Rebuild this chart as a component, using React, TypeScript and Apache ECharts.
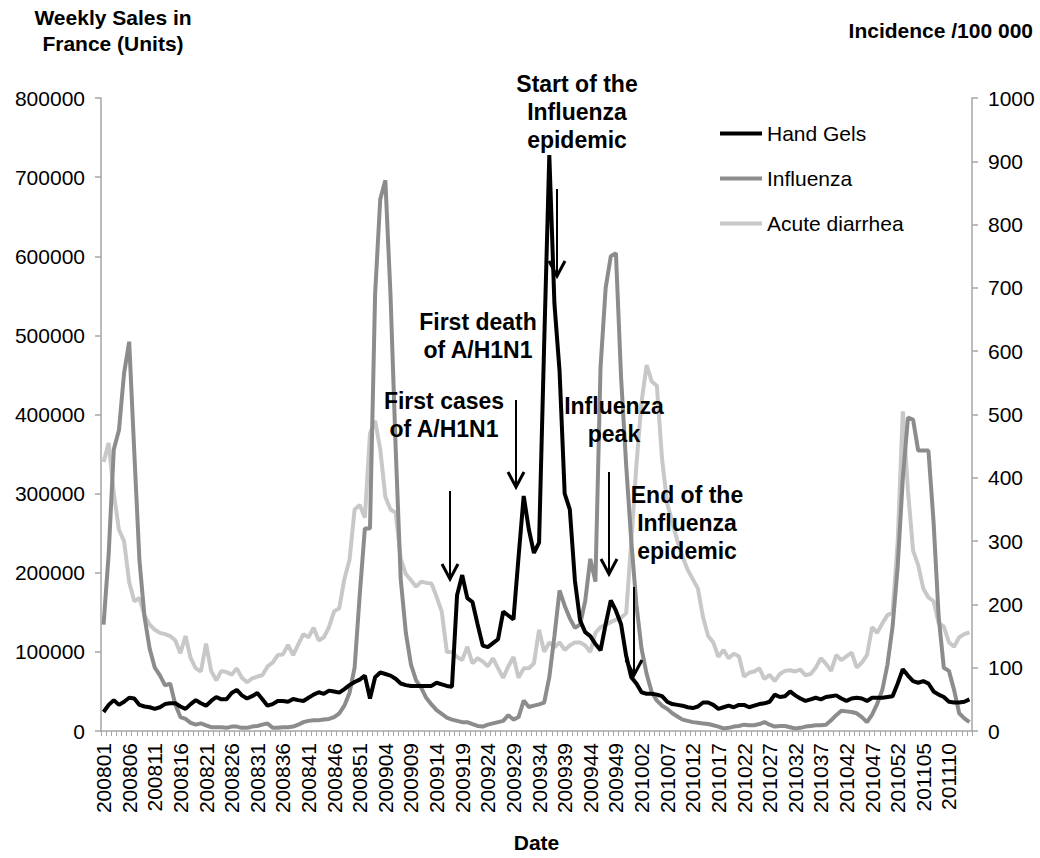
import React, { useEffect, useRef } from "react";
import * as echarts from "echarts";

const FONT = '"Liberation Sans", Arial, Helvetica, sans-serif';

// Weekly categories 200801 ... 201114 (52 weeks per year)
const years = [2008, 2009, 2010, 2011];
const lastWeekOfYear = [52, 52, 52, 14];
const weeks: string[] = [];
years.forEach((y, k) => {
  for (let w = 1; w <= lastWeekOfYear[k]; w++) weeks.push(`${y}${w < 10 ? "0" + w : w}`);
});

// Weekly sales of hand gels in France (units) - left axis
const handGels = [
  24000, 33000, 39000, 33000, 37000, 42000, 41000, 33000, 31000, 30000,
  28000, 30000, 34000, 35000, 35000, 31000, 28000, 34000, 39000, 35000,
  32000, 38000, 43000, 40000, 40000, 48000, 52000, 45000, 41000, 44000,
  48000, 40000, 32000, 34000, 38000, 38000, 37000, 40500, 39000, 38000,
  42000, 46000, 49000, 47000, 51000, 50000, 48500, 53000, 58000, 62000,
  65000, 70000, 41000, 68000, 74000, 72000, 70000, 66000, 60000, 58000,
  57000, 57000, 57000, 57000, 57000, 61000, 59000, 57000, 56000, 172000,
  197000, 168000, 163000, 135000, 108000, 106000, 111000, 116000, 151000, 146000,
  141000, 220000, 297000, 255000, 225000, 238000, 490000, 728000, 540000, 455000,
  300000, 280000, 190000, 140000, 125000, 120000, 110000, 102000, 135000, 165000,
  152000, 135000, 95000, 68000, 60000, 49000, 47000, 47000, 46000, 44000,
  37000, 34000, 33000, 32000, 30000, 29000, 31000, 36000, 36000, 33000,
  28000, 30000, 32000, 30000, 33000, 33000, 30000, 32000, 34000, 35000,
  37000, 46000, 43000, 44000, 50000, 45000, 41000, 38000, 40000, 42000,
  40000, 43000, 44000, 45000, 41000, 38000, 41000, 42000, 41000, 38000,
  42000, 42000, 42000, 43000, 44000, 60000, 78000, 70000, 63000, 61000,
  63000, 60000, 50000, 46000, 43000, 37000, 36000, 36000, 37000, 40000,
];

// Influenza incidence /100 000 - right axis
const influenza = [
  168, 280, 445, 475, 565, 615, 440, 270, 180, 130,
  100, 88, 72, 75, 42, 22, 19, 13, 10, 12,
  9, 6, 6, 6, 5, 7, 7, 5, 5, 7,
  8, 10, 12, 5, 5, 6, 6, 7, 10, 14,
  16, 17, 17, 18, 19, 22, 28, 40, 60, 100,
  215, 320, 320, 690, 840, 870, 690, 450, 240, 155,
  105, 80, 68, 52, 42, 33, 27, 21, 18, 16,
  14, 14, 11, 8, 7, 10, 12, 14, 16, 25,
  18, 22, 48, 38, 40, 42, 45, 85, 150, 222,
  198, 178, 163, 168, 205, 272, 236, 575, 700, 750,
  755, 560, 420, 300, 200, 130, 90, 61, 48, 40,
  35, 28, 23, 18, 16, 14, 13, 12, 11, 9,
  7, 4, 5, 7, 8, 10, 9, 9, 11, 14,
  10, 7, 8, 8, 6, 4, 5, 7, 8, 9,
  9, 10, 17, 25, 32, 31, 30, 28, 22, 14,
  26, 43, 65, 105, 165, 260, 400, 495, 492, 443,
  443, 443, 330, 180, 100, 95, 65, 28, 20, 14,
];

// Acute diarrhea incidence /100 000 - right axis
const diarrhea = [
  425, 455, 375, 318, 300, 235, 205, 210, 182, 168,
  160, 155, 153, 150, 143, 123, 150, 115, 99, 94,
  138, 95, 80, 95, 93, 89, 99, 84, 77, 83,
  86, 88, 102, 108, 120, 121, 136, 120, 137, 153,
  148, 163, 143, 148, 164, 189, 194, 240, 270, 350,
  357, 337, 470, 490, 445, 370, 350, 345, 272, 248,
  238, 228, 236, 234, 233, 212, 189, 125, 125, 117,
  112, 133, 107, 115, 110, 102, 115, 99, 84, 102,
  117, 84, 99, 99, 107, 160, 125, 140, 132, 140,
  128, 135, 140, 140, 135, 125, 155, 164, 168, 172,
  176, 179, 186, 300, 420, 520, 578, 552, 545, 430,
  360, 330, 300, 275, 255, 240, 225, 180, 150, 140,
  117, 128, 115, 122, 118, 86, 92, 94, 99, 82,
  89, 79, 90, 95, 96, 94, 97, 88, 90, 100,
  115, 106, 95, 120, 112, 118, 124, 100, 108, 120,
  164, 155, 170, 183, 187, 300, 505, 380, 285, 262,
  225, 211, 205, 170, 165, 140, 133, 148, 153, 156,
];

const seriesNames = ["Hand Gels", "Influenza", "Acute diarrhea"];

// Annotations: text, centre position, arrow (x, top, tip)
const notes = [
  { text: "Start of the\nInfluenza\nepidemic", x: 577, y: 112, ax: 557, ay1: 189, ay2: 276 },
  { text: "First death\nof A/H1N1", x: 478, y: 336, ax: 516, ay1: 400, ay2: 487 },
  { text: "First cases\nof A/H1N1", x: 444, y: 415, ax: 450, ay1: 491, ay2: 579 },
  { text: "Influenza\npeak", x: 614, y: 420, ax: 609, ay1: 472, ay2: 574 },
  { text: "End of the\nInfluenza\nepidemic", x: 687, y: 523, ax: 634, ay1: 587, ay2: 675 },
];

const AXIS_COLOR = "#a6a6a6";

export default function App() {
  const ref = useRef<HTMLDivElement>(null);

  useEffect(() => {
    document.body.style.margin = "0";
    if (!ref.current) return;
    const chart = echarts.init(ref.current, undefined, { renderer: "svg" });

    const graphics: any[] = [
      {
        type: "text",
        x: 113,
        y: 30,
        z: 100,
        style: {
          text: "Weekly Sales in\nFrance (Units)",
          fontFamily: FONT,
          fontWeight: "bold",
          fontSize: 21,
          lineHeight: 26,
          align: "center",
          verticalAlign: "middle",
          fill: "#000",
        },
      },
      {
        type: "text",
        x: 1033,
        y: 30,
        z: 100,
        style: {
          text: "Incidence /100 000",
          fontFamily: FONT,
          fontWeight: "bold",
          fontSize: 21,
          align: "right",
          verticalAlign: "middle",
          fill: "#000",
        },
      },
    ];

    notes.forEach((n) => {
      graphics.push({
        type: "text",
        x: n.x,
        y: n.y,
        z: 100,
        style: {
          text: n.text,
          fontFamily: FONT,
          fontWeight: "bold",
          fontSize: 23,
          lineHeight: 28,
          align: "center",
          verticalAlign: "middle",
          fill: "#000",
        },
      });
      graphics.push({
        type: "line",
        z: 100,
        shape: { x1: n.ax, y1: n.ay1, x2: n.ax, y2: n.ay2 },
        style: { stroke: "#000", lineWidth: 2 },
      });
      graphics.push({
        type: "polyline",
        z: 100,
        shape: {
          points: [
            [n.ax - 8, n.ay2 - 15],
            [n.ax, n.ay2],
            [n.ax + 8, n.ay2 - 15],
          ],
        },
        style: { stroke: "#000", lineWidth: 3, fill: null },
      });
    });

    const yCommon = {
      type: "value" as const,
      min: 0,
      splitLine: { show: false },
      axisLine: { show: true, lineStyle: { color: AXIS_COLOR, width: 1.5 } },
      axisTick: { show: true, length: 6, lineStyle: { color: AXIS_COLOR, width: 1.5 } },
      axisLabel: {
        fontSize: 21,
        color: "#000",
        fontFamily: FONT,
        margin: 16,
        formatter: (v: number) => String(v),
      },
    };

    chart.setOption({
      animation: false,
      backgroundColor: "#fff",
      textStyle: { fontFamily: FONT },
      grid: { left: 101, right: 68, top: 98, bottom: 112, containLabel: false },
      legend: {
        data: seriesNames,
        orient: "vertical",
        left: 715,
        top: 116,
        itemWidth: 42,
        itemHeight: 4,
        itemGap: 20,
        icon: "rect",
        textStyle: { fontSize: 21, color: "#000", fontFamily: FONT, lineHeight: 25 },
      },
      xAxis: {
        type: "category",
        data: weeks,
        boundaryGap: true,
        axisLine: { lineStyle: { color: AXIS_COLOR, width: 1.5 } },
        axisTick: { show: true, interval: 0, length: 5, lineStyle: { color: AXIS_COLOR, width: 1 } },
        axisLabel: { interval: 4, rotate: 90, fontSize: 21, color: "#000", fontFamily: FONT, margin: 12 },
        name: "Date",
        nameLocation: "middle",
        nameGap: 101,
        nameTextStyle: { fontSize: 21, fontWeight: "bold", color: "#000", fontFamily: FONT },
      },
      yAxis: [
        { ...yCommon, position: "left", max: 800000, interval: 100000 },
        { ...yCommon, position: "right", max: 1000, interval: 100 },
      ],
      series: [
        {
          name: "Acute diarrhea",
          type: "line",
          yAxisIndex: 1,
          data: diarrhea,
          symbol: "none",
          color: "#c8c8c8",
          lineStyle: { color: "#c8c8c8", width: 4 },
          z: 2,
        },
        {
          name: "Influenza",
          type: "line",
          yAxisIndex: 1,
          data: influenza,
          symbol: "none",
          color: "#8c8c8c",
          lineStyle: { color: "#8c8c8c", width: 4 },
          z: 3,
        },
        {
          name: "Hand Gels",
          type: "line",
          yAxisIndex: 0,
          data: handGels,
          symbol: "none",
          color: "#000000",
          lineStyle: { color: "#000000", width: 4 },
          z: 4,
        },
      ],
      graphic: graphics,
    });

    return () => chart.dispose();
  }, []);

  return (
    <div
      ref={ref}
      style={{ width: 1040, height: 858, position: "absolute", left: 0, top: 0 }}
    />
  );
}
